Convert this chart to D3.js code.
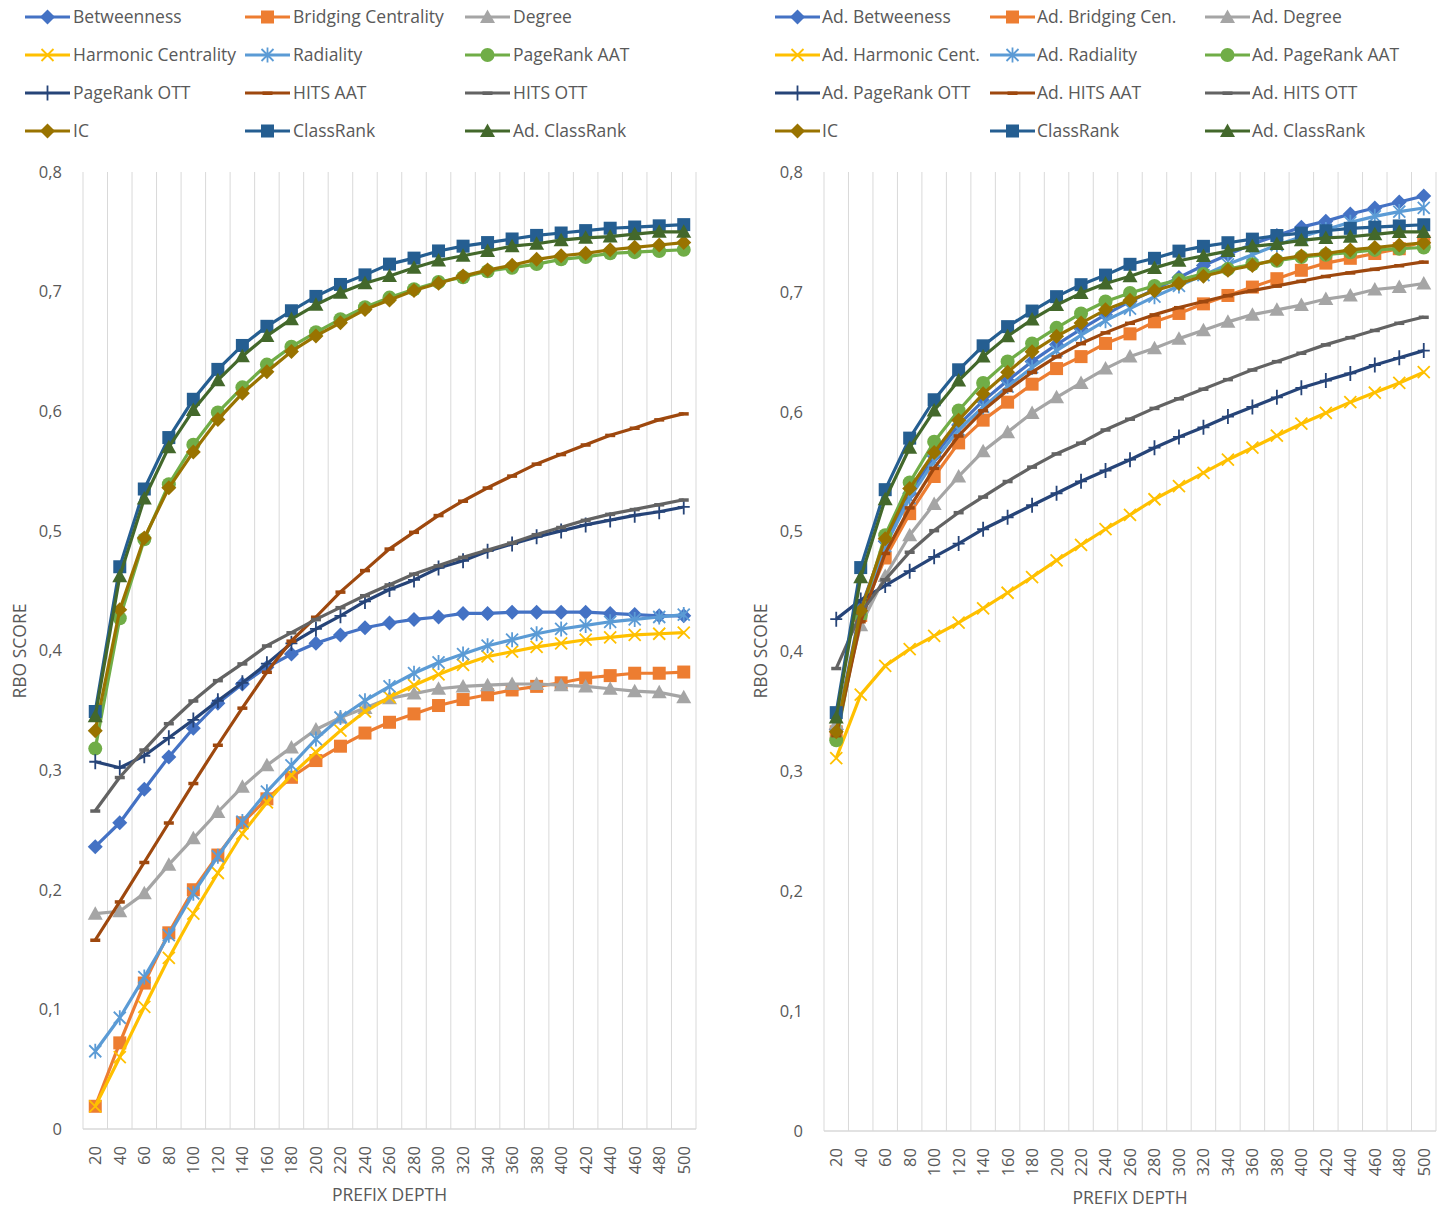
<!DOCTYPE html>
<html>
<head>
<meta charset="utf-8">
<script src="https://cdn.jsdelivr.net/npm/d3@7"></script>
<style>
  html, body { margin: 0; padding: 0; background: #fff; }
  svg { display: block; font-family: "Open Sans", "Noto Sans", sans-serif; }
</style>
</head>
<body>
<svg id="chart" width="1444" height="1208"></svg>
<script>
// Prefix depths (category axis)
const depths = [20, 40, 60, 80, 100, 120, 140, 160, 180, 200, 220, 240, 260,
                280, 300, 320, 340, 360, 380, 400, 420, 440, 460, 480, 500];
const yTicks = [0, 0.1, 0.2, 0.3, 0.4, 0.5, 0.6, 0.7, 0.8];

// ---- Base centrality measures (left chart) ----
const betweenness = [0.236, 0.256, 0.284, 0.311, 0.335, 0.356, 0.372, 0.386, 0.397, 0.406, 0.413, 0.419, 0.423,
                     0.426, 0.428, 0.431, 0.431, 0.432, 0.432, 0.432, 0.432, 0.431, 0.430, 0.429, 0.429];
const bridging = [0.019, 0.072, 0.122, 0.164, 0.200, 0.229, 0.256, 0.276, 0.294, 0.308, 0.320, 0.331, 0.340,
                  0.347, 0.354, 0.359, 0.363, 0.367, 0.370, 0.373, 0.377, 0.379, 0.381, 0.381, 0.382];
const degree = [0.180, 0.182, 0.197, 0.221, 0.243, 0.265, 0.286, 0.304, 0.319, 0.334, 0.344, 0.352, 0.360,
                0.364, 0.368, 0.370, 0.371, 0.372, 0.372, 0.371, 0.370, 0.368, 0.366, 0.365, 0.361];
const harmonic = [0.019, 0.060, 0.102, 0.143, 0.180, 0.214, 0.247, 0.273, 0.296, 0.315, 0.333, 0.349, 0.361,
                  0.371, 0.380, 0.388, 0.395, 0.399, 0.403, 0.406, 0.409, 0.411, 0.413, 0.414, 0.415];
const radiality = [0.065, 0.093, 0.127, 0.162, 0.197, 0.228, 0.257, 0.282, 0.304, 0.326, 0.344, 0.358, 0.370,
                   0.381, 0.390, 0.397, 0.404, 0.409, 0.414, 0.418, 0.421, 0.424, 0.426, 0.428, 0.430];
const pagerankAAT = [0.318, 0.427, 0.493, 0.539, 0.572, 0.599, 0.620, 0.639, 0.654, 0.666, 0.677, 0.687, 0.695,
                     0.702, 0.708, 0.712, 0.717, 0.720, 0.723, 0.727, 0.729, 0.732, 0.733, 0.734, 0.735];
const pagerankOTT = [0.307, 0.302, 0.312, 0.327, 0.342, 0.358, 0.373, 0.389, 0.406, 0.418, 0.429, 0.441, 0.451,
                     0.459, 0.469, 0.475, 0.483, 0.489, 0.495, 0.500, 0.505, 0.509, 0.513, 0.516, 0.520];
const hitsAAT = [0.158, 0.190, 0.223, 0.256, 0.289, 0.321, 0.352, 0.382, 0.408, 0.428, 0.449, 0.467, 0.485,
                 0.499, 0.513, 0.525, 0.536, 0.546, 0.556, 0.564, 0.572, 0.580, 0.586, 0.593, 0.598];
const hitsOTT = [0.266, 0.294, 0.317, 0.339, 0.358, 0.375, 0.389, 0.404, 0.415, 0.426, 0.436, 0.446, 0.455,
                 0.464, 0.471, 0.478, 0.484, 0.490, 0.497, 0.503, 0.509, 0.514, 0.518, 0.522, 0.526];

// ---- Shared by both charts ----
const ic = [0.333, 0.434, 0.494, 0.536, 0.566, 0.593, 0.615, 0.633, 0.650, 0.663, 0.674, 0.685, 0.693,
            0.701, 0.707, 0.713, 0.718, 0.722, 0.727, 0.730, 0.732, 0.735, 0.737, 0.739, 0.741];
const classRank = [0.349, 0.470, 0.535, 0.578, 0.610, 0.635, 0.655, 0.671, 0.684, 0.696, 0.706, 0.714, 0.723,
                   0.728, 0.734, 0.738, 0.741, 0.744, 0.747, 0.749, 0.751, 0.753, 0.754, 0.755, 0.756];
const adClassRank = [0.345, 0.462, 0.527, 0.570, 0.601, 0.626, 0.646, 0.663, 0.677, 0.689, 0.699, 0.707, 0.713,
                     0.720, 0.726, 0.730, 0.734, 0.738, 0.740, 0.743, 0.745, 0.746, 0.748, 0.750, 0.750];

// ---- Adapted measures (right chart) ----
const adBetweenness = [0.335, 0.436, 0.492, 0.532, 0.563, 0.589, 0.609, 0.626, 0.642, 0.656, 0.669, 0.681, 0.692,
                       0.702, 0.712, 0.722, 0.731, 0.740, 0.747, 0.754, 0.759, 0.765, 0.770, 0.775, 0.780];
const adBridging = [0.333, 0.430, 0.478, 0.515, 0.546, 0.574, 0.593, 0.608, 0.623, 0.636, 0.646, 0.657, 0.665,
                    0.675, 0.682, 0.690, 0.697, 0.704, 0.711, 0.718, 0.724, 0.728, 0.732, 0.736, 0.742];
const adDegree = [0.340, 0.422, 0.463, 0.497, 0.523, 0.546, 0.567, 0.583, 0.599, 0.612, 0.624, 0.636, 0.646,
                  0.653, 0.661, 0.668, 0.675, 0.681, 0.685, 0.689, 0.694, 0.697, 0.702, 0.704, 0.707];
const adHarmonic = [0.311, 0.364, 0.388, 0.402, 0.413, 0.424, 0.436, 0.449, 0.462, 0.476, 0.489, 0.502, 0.514,
                    0.527, 0.538, 0.549, 0.560, 0.570, 0.580, 0.590, 0.599, 0.608, 0.616, 0.624, 0.633];
const adRadiality = [0.330, 0.432, 0.488, 0.528, 0.559, 0.585, 0.604, 0.621, 0.637, 0.651, 0.664, 0.676, 0.686,
                     0.696, 0.705, 0.714, 0.723, 0.731, 0.739, 0.746, 0.752, 0.758, 0.763, 0.767, 0.770];
const adPagerankAAT = [0.326, 0.430, 0.497, 0.541, 0.575, 0.601, 0.624, 0.642, 0.657, 0.670, 0.682, 0.692, 0.699,
                       0.705, 0.710, 0.715, 0.719, 0.723, 0.726, 0.729, 0.731, 0.733, 0.735, 0.736, 0.737];
const adPagerankOTT = [0.427, 0.443, 0.455, 0.467, 0.479, 0.490, 0.502, 0.512, 0.522, 0.532, 0.542, 0.551, 0.560,
                       0.570, 0.579, 0.587, 0.596, 0.604, 0.612, 0.620, 0.626, 0.632, 0.639, 0.645, 0.651];
const adHitsAAT = [0.330, 0.425, 0.482, 0.520, 0.553, 0.580, 0.601, 0.618, 0.633, 0.646, 0.657, 0.666, 0.674,
                   0.681, 0.687, 0.692, 0.697, 0.701, 0.705, 0.709, 0.713, 0.716, 0.719, 0.722, 0.725];
const adHitsOTT = [0.386, 0.432, 0.460, 0.483, 0.501, 0.516, 0.529, 0.542, 0.554, 0.565, 0.574, 0.585, 0.594,
                   0.603, 0.611, 0.619, 0.627, 0.635, 0.642, 0.649, 0.656, 0.662, 0.668, 0.674, 0.679];

// Series names in legend order (row by row)
const leftNames = ["Betweenness", "Bridging Centrality", "Degree",
                   "Harmonic Centrality", "Radiality", "PageRank AAT",
                   "PageRank OTT", "HITS AAT", "HITS OTT",
                   "IC", "ClassRank", "Ad. ClassRank"];
const rightNames = ["Ad. Betweeness", "Ad. Bridging Cen.", "Ad. Degree",
                    "Ad. Harmonic Cent.", "Ad. Radiality", "Ad. PageRank AAT",
                    "Ad. PageRank OTT", "Ad. HITS AAT", "Ad. HITS OTT",
                    "IC", "ClassRank", "Ad. ClassRank"];
const leftValues = [betweenness, bridging, degree, harmonic, radiality, pagerankAAT,
                    pagerankOTT, hitsAAT, hitsOTT, ic, classRank, adClassRank];
const rightValues = [adBetweenness, adBridging, adDegree, adHarmonic, adRadiality, adPagerankAAT,
                     adPagerankOTT, adHitsAAT, adHitsOTT, ic, classRank, adClassRank];

// Styling per series slot
const seriesColors = ["#4472C4", "#ED7D31", "#A5A5A5", "#FFC000", "#5B9BD5", "#70AD47",
                      "#264478", "#9E480E", "#636363", "#997300", "#255E91", "#43682B"];
const seriesMarkers = ["diamond", "square", "triangle", "x", "star", "circle",
                       "plus", "dash", "dash", "diamond", "square", "triangle"];

const TEXT = "#595959";
const GRID = "#d9d9d9";
const svg = d3.select("#chart");

function drawMarker(g, type, color, x, y) {
  const m = g.append("g").attr("transform", `translate(${x},${y})`);
  switch (type) {
    case "diamond":
      m.append("path").attr("d", "M0,-7.5L7.5,0L0,7.5L-7.5,0Z").attr("fill", color);
      break;
    case "square":
      m.append("rect").attr("x", -6.5).attr("y", -6.5).attr("width", 13).attr("height", 13).attr("fill", color);
      break;
    case "triangle":
      m.append("path").attr("d", "M0,-7.5L7.5,6L-7.5,6Z").attr("fill", color);
      break;
    case "circle":
      m.append("circle").attr("r", 7).attr("fill", color);
      break;
    case "x":
      m.append("path").attr("d", "M-6,-6L6,6M-6,6L6,-6")
        .attr("stroke", color).attr("stroke-width", 1.8).attr("fill", "none");
      break;
    case "star":
      m.append("path").attr("d", "M-6,-6L6,6M-6,6L6,-6M0,-7.5L0,7.5")
        .attr("stroke", color).attr("stroke-width", 1.8).attr("fill", "none");
      break;
    case "plus":
      m.append("path").attr("d", "M0,-7.5L0,7.5M-6,0L6,0")
        .attr("stroke", color).attr("stroke-width", 1.8).attr("fill", "none");
      break;
    case "dash":
      m.append("rect").attr("x", -5).attr("y", -1.5).attr("width", 10).attr("height", 3.5).attr("fill", color);
      break;
  }
}

function drawPanel(cfg) {
  const x = d3.scaleBand().domain(depths).range([cfg.x0, cfg.x1]).padding(0);
  const y = d3.scaleLinear().domain([0, 0.8]).range([cfg.yBottom, cfg.yTop]);
  const cx = d => x(d) + x.bandwidth() / 2;
  const g = svg.append("g");

  // vertical gridlines at category boundaries
  const bounds = depths.map(d => x(d)).concat([cfg.x1]);
  g.append("g").selectAll("line").data(bounds).join("line")
    .attr("x1", d => d).attr("x2", d => d)
    .attr("y1", cfg.yTop).attr("y2", cfg.yBottom)
    .attr("stroke", GRID).attr("stroke-width", 1);
  g.append("line").attr("x1", cfg.x0).attr("x2", cfg.x1)
    .attr("y1", cfg.yBottom).attr("y2", cfg.yBottom)
    .attr("stroke", GRID).attr("stroke-width", 1.3);

  // y axis
  const yAxis = d3.axisLeft(y).tickValues(yTicks).tickSize(0).tickPadding(0)
    .tickFormat(d => d === 0 ? "0" : d.toFixed(1).replace(".", ","));
  const ya = g.append("g").attr("transform", `translate(${cfg.x0 - 21},0)`).call(yAxis);
  ya.select(".domain").remove();
  ya.selectAll("text").attr("fill", TEXT).style("font-size", "16.5px").style("font-family", "'Open Sans', sans-serif");

  // x axis with vertical labels
  const xAxis = d3.axisBottom(x).tickSize(0);
  const xa = g.append("g").attr("transform", `translate(0,${cfg.yBottom})`).call(xAxis);
  xa.select(".domain").remove();
  xa.selectAll("text")
    .attr("transform", "rotate(-90)")
    .attr("x", -cfg.tickGap).attr("y", 0).attr("dy", "0.36em")
    .style("text-anchor", "end")
    .attr("fill", TEXT).style("font-size", "16.5px").style("font-family", "'Open Sans', sans-serif");

  // axis titles
  g.append("text")
    .attr("transform", `translate(${cfg.yTitleX},${cfg.yTitleY}) rotate(-90)`)
    .attr("text-anchor", "middle").attr("dy", "0.35em")
    .attr("fill", TEXT).style("font-size", "17.5px").text("RBO SCORE");
  g.append("text")
    .attr("x", (cfg.x0 + cfg.x1) / 2).attr("y", cfg.xTitleY)
    .attr("text-anchor", "middle").attr("dy", "0.35em")
    .attr("fill", TEXT).style("font-size", "17.5px").text("PREFIX DEPTH");

  // series lines and markers
  const line = d3.line().x((v, i) => cx(depths[i])).y(v => y(v));
  cfg.values.forEach((vals, s) => {
    const color = seriesColors[s];
    const sg = g.append("g");
    sg.append("path").datum(vals).attr("d", line)
      .attr("fill", "none").attr("stroke", color).attr("stroke-width", 3.2)
      .attr("stroke-linejoin", "round");
    vals.forEach((v, i) => drawMarker(sg, seriesMarkers[s], color, cx(depths[i]), y(v)));
  });

  // legend
  cfg.names.forEach((name, s) => {
    const row = Math.floor(s / 3), col = s % 3;
    const lx = cfg.legendCols[col], ly = cfg.legendRows[row];
    const color = seriesColors[s];
    const lg = svg.append("g");
    lg.append("line").attr("x1", lx).attr("x2", lx + 45).attr("y1", ly).attr("y2", ly)
      .attr("stroke", color).attr("stroke-width", 3.2);
    drawMarker(lg, seriesMarkers[s], color, lx + 22.5, ly);
    lg.append("text").attr("x", lx + cfg.legendTextGap).attr("y", ly).attr("dy", "0.35em")
      .attr("fill", TEXT).style("font-size", "17.5px").text(name);
  });
}

drawPanel({
  x0: 83, x1: 696, yTop: 172, yBottom: 1129, tickGap: 17,
  yTitleX: 20, yTitleY: 651, xTitleY: 1195,
  names: leftNames, values: leftValues,
  legendCols: [25, 245, 465], legendRows: [17, 55, 93, 131], legendTextGap: 48
});
drawPanel({
  x0: 824, x1: 1436, yTop: 172, yBottom: 1131, tickGap: 17,
  yTitleX: 761, yTitleY: 651, xTitleY: 1198,
  names: rightNames, values: rightValues,
  legendCols: [775, 990, 1205], legendRows: [17, 55, 93, 131], legendTextGap: 47
});
</script>
</body>
</html>
